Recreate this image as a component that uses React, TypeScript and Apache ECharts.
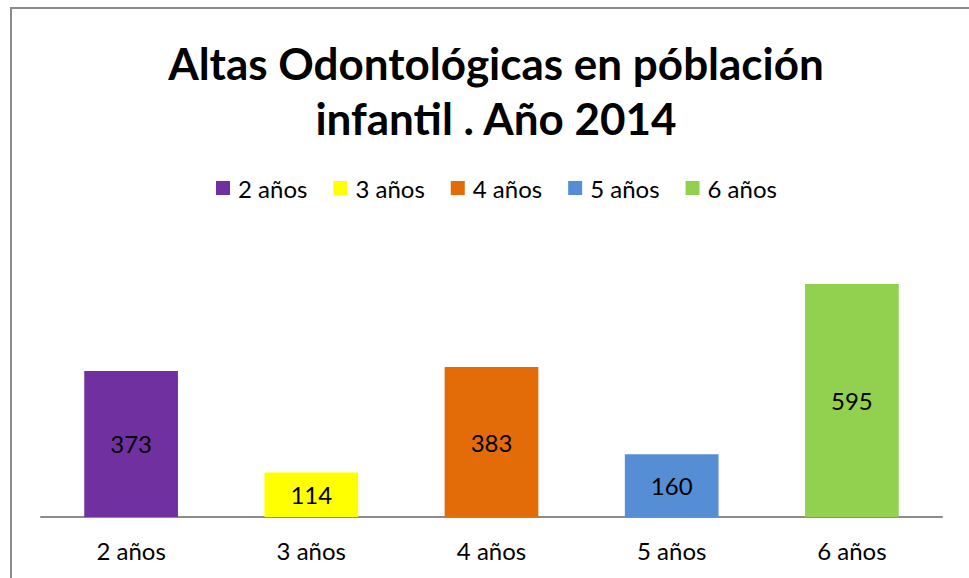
import React, { useEffect, useRef } from "react";
import * as echarts from "echarts";

const categories = ["2 años", "3 años", "4 años", "5 años", "6 años"];
const values = [373, 114, 383, 160, 595];
const colors = ["#7030A0", "#FFFF00", "#E36C09", "#558ED5", "#92D050"];
const titleText = "Altas Odontológicas en póblación\ninfantil . Año 2014";

const FONT = "Lato, 'Noto Sans', sans-serif";

export default function App() {
  const ref = useRef<HTMLDivElement>(null);
  useEffect(() => {
    if (!ref.current) return;
    const chart = echarts.init(ref.current, undefined, { renderer: "svg" });
    const series = categories.map((name, i) => ({
      name,
      type: "bar" as const,
      stack: "all",
      barWidth: "52%",
      itemStyle: { color: colors[i] },
      label: {
        show: true,
        position: "inside" as const,
        color: "#000",
        fontSize: 24,
        fontFamily: FONT,
      },
      data: categories.map((_, j) => (j === i ? values[i] : "-")),
    }));
    chart.setOption({
      animation: false,
      backgroundColor: "#fff",
      textStyle: { fontFamily: FONT },
      title: {
        text: titleText,
        left: 491,
        textAlign: "center",
        top: 30,
        textStyle: {
          fontFamily: FONT,
          fontSize: 44,
          fontWeight: "bold",
          color: "#000",
          lineHeight: 55,
        },
      },
      legend: {
        top: 171,
        left: 211,
        itemWidth: 14,
        itemHeight: 14,
        itemGap: 26,
        icon: "rect",
        textStyle: { fontSize: 24, color: "#000", fontFamily: FONT, padding: [0, 0, 0, 3] },
        data: categories,
      },
      graphic: [
        {
          type: "rect",
          shape: { x: 11, y: 8, width: 1000, height: 700 },
          style: { fill: "none", stroke: "#8c8c8c", lineWidth: 2 },
          silent: true,
        },
      ],
      grid: { left: 41, right: 27, top: 243, bottom: 61 },
      xAxis: {
        type: "category",
        data: categories,
        axisLine: { lineStyle: { color: "#8c8c8c", width: 2 } },
        axisTick: { show: false },
        axisLabel: { color: "#000", fontSize: 24, fontFamily: FONT, margin: 21 },
      },
      yAxis: {
        type: "value",
        min: 0,
        max: 700,
        interval: 100,
        show: false,
        splitLine: { show: false },
      },
      series,
    });
    return () => chart.dispose();
  }, []);
  return (
    <div
      ref={ref}
      style={{ position: "fixed", left: 0, top: 0, width: 969, height: 578 }}
    />
  );
}
